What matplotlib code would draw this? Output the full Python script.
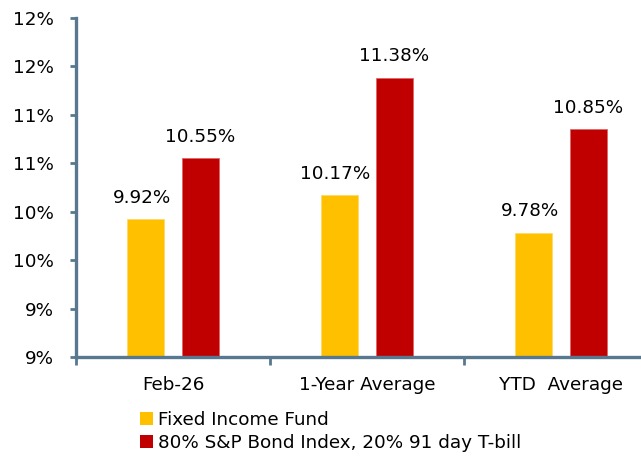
import matplotlib.pyplot as plt
import numpy as np
from matplotlib.patches import Patch
from matplotlib.ticker import FuncFormatter, MultipleLocator

categories = ["Feb-26", "1-Year Average", "YTD  Average"]
fund = [9.92, 10.17, 9.78]
bench = [10.55, 11.38, 10.85]
series_names = ["Fixed Income Fund", "80% S&P Bond Index, 20% 91 day T-bill"]

GOLD = "#FFC000"
RED = "#C00000"
AXIS = "#57788F"
FS = 13.2

plt.rcParams["font.family"] = "DejaVu Sans"

fig = plt.figure(figsize=(6.41, 4.58), dpi=100)
ax = fig.add_axes([76 / 641, 101 / 458, 582 / 641, 339 / 458])

x = np.arange(len(categories))
width = 0.19
off = 0.142
ax.bar(x - off, fund, width=width, color=GOLD, edgecolor="#FFD966", linewidth=0.6)
ax.bar(x + off, bench, width=width, color=RED, edgecolor="#E06666", linewidth=0.6)

for xi, v in zip(x, fund):
    ax.text(xi - off - 0.02, v + 0.13, f"{v:.2f}%", ha="center", va="bottom", fontsize=FS)
for xi, v in zip(x, bench):
    ax.text(xi + off, v + 0.13, f"{v:.2f}%", ha="center", va="bottom", fontsize=FS)

ax.set_xlim(-0.5, 2.5)
ax.set_ylim(8.5, 12.0)
ax.yaxis.set_major_locator(MultipleLocator(0.5))
ax.yaxis.set_major_formatter(FuncFormatter(lambda v, p: f"{int(np.floor(v + 0.5))}%"))

ax.set_xticks(x)
ax.set_xticklabels(categories)
ax.set_xticks([-0.5, 0.5, 1.5, 2.5], minor=True)
ax.tick_params(axis="x", which="major", length=0, labelsize=FS, pad=14)
ax.tick_params(axis="x", which="minor", length=6, width=2, color=AXIS)
ax.tick_params(axis="y", which="major", length=4, width=2, color=AXIS, labelsize=FS, pad=12)

for side in ["top", "right"]:
    ax.spines[side].set_visible(False)
for side in ["left", "bottom"]:
    ax.spines[side].set_color(AXIS)
    ax.spines[side].set_linewidth(2.4)

handles = [Patch(facecolor=GOLD, edgecolor="none"), Patch(facecolor=RED, edgecolor="none")]
fig.legend(handles, series_names, loc="upper left", bbox_to_anchor=(140 / 641, 1 - 411 / 458),
           frameon=False, fontsize=FS, handlelength=0.7, handleheight=0.7,
           handletextpad=0.3, labelspacing=0.25, borderpad=0, borderaxespad=0)

fig.savefig("out.png", dpi=100)
